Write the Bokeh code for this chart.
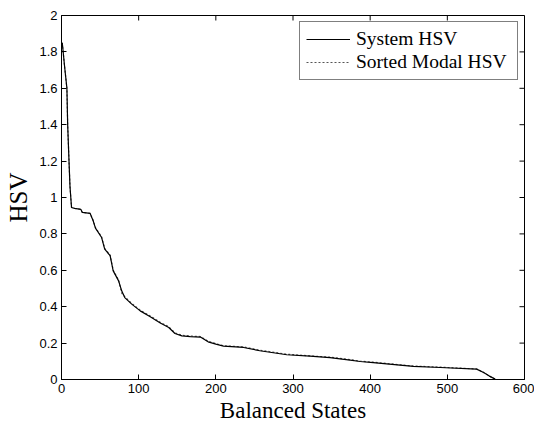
from bokeh.plotting import figure
from bokeh.models import FixedTicker, Range1d, Legend, LegendItem
from bokeh.embed import file_html
from bokeh.resources import INLINE

states = [1, 4, 7, 8, 10, 11, 13, 17, 25, 27, 37, 41, 44, 52, 56, 63, 67, 74, 78, 82,
          91, 102, 115, 128, 139, 147, 156, 167, 180, 190, 200, 210, 236, 257, 292,
          322, 348, 374, 387, 404, 456, 491, 538, 547, 554, 562]
system_hsv = [1.85, 1.72, 1.60, 1.40, 1.17, 1.06, 0.945, 0.940, 0.935, 0.918, 0.913,
              0.872, 0.832, 0.780, 0.716, 0.680, 0.597, 0.542, 0.487, 0.450, 0.414,
              0.377, 0.345, 0.310, 0.286, 0.253, 0.240, 0.236, 0.233, 0.207, 0.194,
              0.183, 0.176, 0.158, 0.136, 0.128, 0.120, 0.106, 0.099, 0.093, 0.072,
              0.066, 0.057, 0.038, 0.020, 0.002]
modal_hsv = [1.85, 1.72, 1.60, 1.40, 1.17, 1.06, 0.945, 0.940, 0.935, 0.918, 0.913,
             0.875, 0.835, 0.783, 0.720, 0.683, 0.600, 0.546, 0.475, 0.455, 0.418,
             0.381, 0.349, 0.314, 0.290, 0.256, 0.243, 0.239, 0.236, 0.210, 0.197,
             0.186, 0.179, 0.161, 0.139, 0.130, 0.123, 0.109, 0.101, 0.095, 0.074,
             0.068, 0.058, 0.039, 0.020, 0.002]
x_ticks = [0, 100, 200, 300, 400, 500, 600]
y_ticks = [0, 0.2, 0.4, 0.6, 0.8, 1.0, 1.2, 1.4, 1.6, 1.8, 2.0]
y_tick_labels = ["0", "0.2", "0.4", "0.6", "0.8", "1", "1.2", "1.4", "1.6", "1.8", "2"]
x_label = "Balanced States"
y_label = "HSV"
series_names = ["System HSV", "Sorted Modal HSV"]

W, H = 534, 425
BL, BR, BT, BB = 61, 10, 15, 46
X0, X1, Y0, Y1 = 0, 600, 0, 2
TICK = 5

p = figure(width=W, height=H, output_backend="svg", toolbar_location=None,
           x_range=Range1d(X0, X1), y_range=Range1d(Y0, Y1),
           min_border_left=BL, min_border_right=BR, min_border_top=BT,
           min_border_bottom=BB, x_axis_label=x_label, y_axis_label=y_label)
p.background_fill_color = "white"
p.border_fill_color = "white"
p.outline_line_color = "black"
p.outline_line_width = 1
p.xgrid.visible = False
p.ygrid.visible = False

for ax, ticks in ((p.xaxis[0], x_ticks), (p.yaxis[0], y_ticks)):
    ax.ticker = FixedTicker(ticks=ticks)
    ax.major_tick_in = TICK
    ax.major_tick_out = 0
    ax.minor_tick_in = 0
    ax.minor_tick_out = 0
    ax.axis_line_color = "black"
    ax.major_tick_line_color = "black"
    ax.major_label_text_font = "Liberation Sans"
    ax.major_label_text_color = "black"
    ax.major_label_text_font_size = "13px"
    ax.major_label_standoff = 4
    ax.axis_label_text_font = "Liberation Serif"
    ax.axis_label_text_font_style = "normal"
    ax.axis_label_text_color = "black"
p.yaxis[0].major_label_overrides = {t: l for t, l in zip(y_ticks, y_tick_labels)}
p.xaxis[0].axis_label_text_font_size = "23px"
p.yaxis[0].axis_label_text_font_size = "25px"
p.xaxis[0].axis_label_standoff = 2
p.yaxis[0].axis_label_standoff = 4

# inward ticks on the top and right edges of the box
dx = TICK * (X1 - X0) / (W - BL - BR)
dy = TICK * (Y1 - Y0) / (H - BT - BB)
p.segment(x0=x_ticks, y0=[Y1] * len(x_ticks), x1=x_ticks, y1=[Y1 - dy] * len(x_ticks),
          line_color="black", line_width=1)
p.segment(x0=[X1] * len(y_ticks), y0=y_ticks, x1=[X1 - dx] * len(y_ticks), y1=y_ticks,
          line_color="black", line_width=1)

r_modal = p.line(states, modal_hsv, line_color="#555555", line_width=1.2, line_dash="2 2")
r_sys = p.line(states, system_hsv, line_color="black", line_width=1.2)

legend = Legend(items=[LegendItem(label=series_names[0], renderers=[r_sys]),
                       LegendItem(label=series_names[1], renderers=[r_modal])],
                location="top_right")
legend.label_text_font = "Liberation Serif"
legend.label_text_font_size = "19.5px"
legend.label_text_color = "black"
legend.glyph_width = 44
legend.glyph_height = 18
legend.label_height = 18
legend.label_width = 155
legend.label_standoff = 6
legend.padding = 6
legend.spacing = 1
legend.margin = 6
legend.border_line_color = "black"
legend.border_line_width = 1.5
legend.background_fill_color = "white"
legend.background_fill_alpha = 1
p.add_layout(legend)

open("out.html", "w").write(file_html(p, INLINE))
